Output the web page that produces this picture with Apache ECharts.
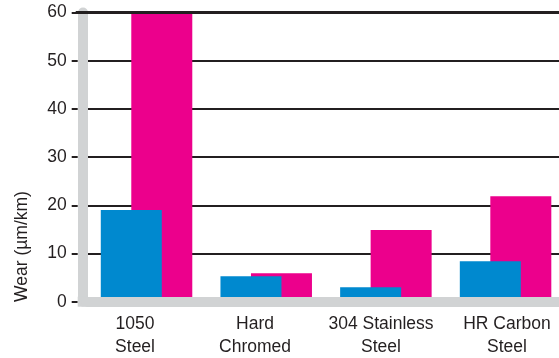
<!DOCTYPE html>
<html>
<head>
<meta charset="utf-8">
<script src="https://cdn.jsdelivr.net/npm/echarts@6/dist/echarts.min.js"></script>
<style>
html,body{margin:0;padding:0;background:#fff;}
#c{width:559px;height:358px;}
</style>
</head>
<body>
<div id="c"></div>
<script>
// ---- data ----
const categories = ['1050\nSteel', 'Hard\nChromed', '304 Stainless\nSteel', 'HR Carbon\nSteel'];
const blueValues = [19, 5.3, 3.0, 8.4];
const magentaValues = [60, 5.9, 14.9, 21.9];
const yTickValues = [0, 10, 20, 30, 40, 50, 60];
const yAxisTitle = 'Wear (µm/km)';

// ---- layout / style ----
const FONT = '"Liberation Sans", Arial, sans-serif';
const TEXT = '#231f20';
const GREY = '#d1d3d4';
const BLUE = '#0089cf';
const MAGENTA = '#ec008c';
const FS = 17.5;
const labelShift = [-11.5, -11.2, -4.9, 1.4]; // horizontal nudges of category labels

const yMin = yTickValues[0];
const yMax = yTickValues[yTickValues.length - 1];
const yInterval = yTickValues[1] - yTickValues[0];

const rich = {};
labelShift.forEach((s, i) => {
  rich['p' + i] = {
    fontFamily: FONT, fontSize: FS, color: TEXT, lineHeight: 23,
    padding: s < 0 ? [0, -2 * s, 0, 0] : [0, 0, 0, 2 * s]
  };
});

const chart = echarts.init(document.getElementById('c'), null, {renderer: 'canvas'});
chart.setOption({
  animation: false,
  backgroundColor: '#fff',
  grid: {left: 86.7, right: -6.4, top: 12.5, bottom: 56.3, containLabel: false, outerBoundsMode: 'none'},
  xAxis: [
    {
      type: 'category', data: categories, position: 'bottom', z: 5,
      axisLine: {show: true, onZero: false, lineStyle: {color: GREY, width: 10}},
      axisTick: {show: false},
      axisLabel: {
        margin: 11, interval: 0, hideOverlap: false,
        formatter: (v, i) => v.split('\n').map(s => '{p' + i + '|' + s + '}').join('\n'),
        rich: rich
      },
      splitLine: {show: false}
    },
    {
      type: 'category', data: categories, position: 'top', z: 6,
      axisLine: {show: true, onZero: false, symbol: ['rect', 'none'], symbolSize: [3, 12], symbolOffset: [-5, 0],
        lineStyle: {color: TEXT, width: 3}},
      axisTick: {show: false}, axisLabel: {show: false}, splitLine: {show: false}
    }
  ],
  yAxis: [
    {
      type: 'value', position: 'left', min: yMin, max: yMax, interval: yInterval, offset: 4, z: 1,
      axisLine: {show: true, symbol: ['rect', 'none'], symbolSize: [10, 10],
        lineStyle: {color: GREY, width: 10}},
      axisTick: {show: false}, axisLabel: {show: false},
      splitLine: {show: true, lineStyle: {color: TEXT, width: 2}}
    },
    {
      type: 'value', position: 'left', min: yMin, max: yMax, interval: yInterval, offset: 9, z: 0,
      axisLine: {show: false},
      axisTick: {show: true, length: 6, lineStyle: {color: TEXT, width: 2}},
      axisLabel: {margin: 11, fontFamily: FONT, fontSize: FS, color: TEXT},
      splitLine: {show: false}
    }
  ],
  graphic: [{
    type: 'text', x: 21.7, y: 246.5, rotation: Math.PI / 2,
    style: {text: yAxisTitle, font: FS + 'px ' + FONT, fill: TEXT, align: 'center', verticalAlign: 'middle'}
  }],
  series: [
    {type: 'bar', data: blueValues, xAxisIndex: 0, yAxisIndex: 0, barWidth: 61, barGap: '-50%', z: 3,
      itemStyle: {color: BLUE}},
    {type: 'bar', data: magentaValues, xAxisIndex: 0, yAxisIndex: 0, barWidth: 61, barGap: '-50%', z: 2,
      itemStyle: {color: MAGENTA}}
  ]
});
</script>
</body>
</html>
